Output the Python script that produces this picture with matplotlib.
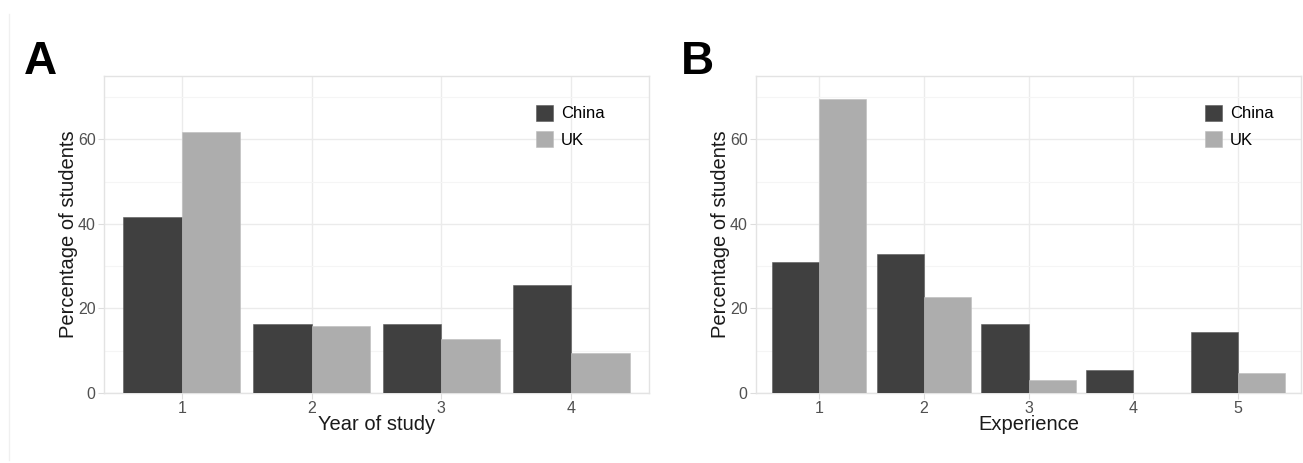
import matplotlib
matplotlib.use("Agg")
import matplotlib.pyplot as plt
import numpy as np
from matplotlib.patches import Patch
from matplotlib.lines import Line2D
from matplotlib.ticker import MultipleLocator

plt.rcParams['font.family'] = ['Liberation Sans', 'DejaVu Sans']

# Data
year_categories = ["1", "2", "3", "4"]
year_china = [41.7, 16.4, 16.4, 25.5]
year_uk = [61.8, 15.9, 12.7, 9.5]

exp_categories = ["1", "2", "3", "4", "5"]
exp_china = [31.0, 32.9, 16.4, 5.4, 14.5]
exp_uk = [69.5, 22.6, 3.1, 0.0, 4.7]

series_names = ["China", "UK"]
colors = ["#404040", "#adadad"]

W, H = 1303, 463
fig = plt.figure(figsize=(W / 100, H / 100), dpi=100)

# faint outer frame line at the left
fig.add_artist(Line2D([8.5 / W, 8.5 / W], [1 - 14 / H, 1 - 460 / H],
                      transform=fig.transFigure, color='#f0f0f0', linewidth=1.0))


def ax_rect(l, r, t, b):
    return [l / W, 1 - b / H, (r - l) / W, (b - t) / H]


def panel(rect, cats, china, uk, xlabel, leg_x):
    ax = fig.add_axes(rect)
    n = len(cats)
    x = np.arange(1, n + 1)
    w = 0.45
    ax.bar(x - w / 2, china, width=w, color=colors[0], edgecolor='#5a5a5a',
           linewidth=0.4, zorder=3)
    ax.bar(x + w / 2, uk, width=w, color=colors[1], edgecolor='#bdbdbd',
           linewidth=0.4, zorder=3)
    ax.set_xlim(0.4, n + 0.6)
    ax.set_ylim(0, 75)
    ax.set_xticks(x)
    ax.set_xticklabels(cats)
    ax.yaxis.set_major_locator(MultipleLocator(20))
    ax.yaxis.set_minor_locator(MultipleLocator(10))
    ax.grid(True, which='major', color='#ebebeb', linewidth=1.0, zorder=0)
    ax.grid(True, which='minor', axis='y', color='#f5f5f5', linewidth=0.8, zorder=0)
    ax.set_axisbelow(True)
    for s in ax.spines.values():
        s.set_color('#e3e3e3')
        s.set_linewidth(1.0)
    ax.tick_params(axis='both', which='major', colors='#dddddd', labelcolor='#505050',
                   labelsize=11.5, length=4, width=0.8, pad=2)
    ax.tick_params(axis='y', which='minor', length=0)
    ax.set_ylabel("Percentage of students", fontsize=14.5, color='#1a1a1a', labelpad=0)
    ax.set_xlabel(xlabel, fontsize=14.5, color='#1a1a1a', labelpad=-1)
    handles = [Patch(facecolor=colors[0], edgecolor='#5a5a5a', linewidth=0.4),
               Patch(facecolor=colors[1], edgecolor='#bdbdbd', linewidth=0.4)]
    ax.legend(handles, series_names, loc='upper left', bbox_to_anchor=(leg_x, 0.91),
              frameon=False, fontsize=12, handlelength=1.0, handleheight=1.1,
              handletextpad=0.5, labelspacing=0.6, borderpad=0, borderaxespad=0)
    return ax


panel(ax_rect(104, 649, 76, 393), year_categories, year_china, year_uk,
      "Year of study", 0.793)
panel(ax_rect(756, 1301, 76, 393), exp_categories, exp_china, exp_uk,
      "Experience", 0.824)

fig.text(24 / W, 1 - 74 / H, "A", fontsize=33, fontweight='bold', ha='left', va='baseline')
fig.text(681 / W, 1 - 74 / H, "B", fontsize=33, fontweight='bold', ha='left', va='baseline')

fig.savefig("out.png", dpi=100)
